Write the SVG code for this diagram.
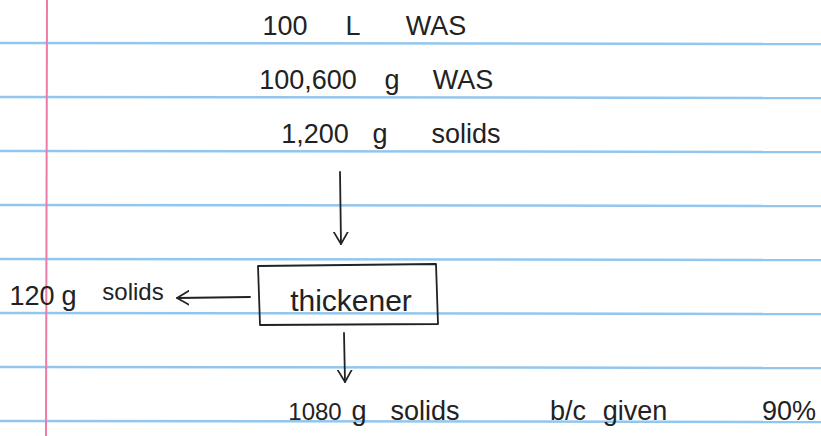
<svg xmlns="http://www.w3.org/2000/svg" width="821" height="436" viewBox="0 0 821 436">
<style>
.rule{stroke:#93c6ee;stroke-width:2.5;fill:none}
.margin{stroke:#ee7aa8;stroke-width:2;fill:none}
.hw{font-family:"Liberation Sans",Arial,sans-serif;font-size:27px;fill:#222;text-anchor:middle}
.sm{font-size:24px}
.ink{stroke:#222;stroke-width:1.8;fill:none;stroke-linecap:round;stroke-linejoin:round}
</style>
<defs>
<marker id="ah" viewBox="0 -8 13 16" refX="12" refY="0" markerWidth="13" markerHeight="16" markerUnits="userSpaceOnUse" orient="auto">
<path d="M0,-7 L12,0 L0,7" fill="none" stroke="#222" stroke-width="1.7" stroke-linecap="round" stroke-linejoin="round"/>
</marker>
</defs>
<rect width="821" height="436" fill="#fff"/>
<g id="paper">
<path class="rule" d="M0,43 L821,44"/>
<path class="rule" d="M0,97 L821,98"/>
<path class="rule" d="M0,151 L821,152"/>
<path class="rule" d="M0,205 L821,206"/>
<path class="rule" d="M0,259 L821,260"/>
<path class="rule" d="M0,313 L821,314"/>
<path class="rule" d="M0,367 L821,368"/>
<path class="rule" d="M0,421 L821,422"/>
<path class="margin" d="M47,0 L46,436"/>
</g>
<g id="connectors">
<path class="ink" d="M340,172 L341,244" marker-end="url(#ah)"/>
<path class="ink" d="M250,297 L177,298" marker-end="url(#ah)" stroke-width="2.2"/>
<path class="ink" d="M344,333 L345,382" marker-end="url(#ah)"/>
</g>
<g id="input">
<text class="hw" x="285" y="35">100</text>
<text class="hw" x="353" y="35">L</text>
<text class="hw" x="436" y="35">WAS</text>
<text class="hw" x="308" y="89">100,600</text>
<text class="hw" x="392" y="89">g</text>
<text class="hw" x="463" y="89">WAS</text>
<text class="hw" x="315" y="143">1,200</text>
<text class="hw" x="380" y="143">g</text>
<text class="hw" x="466" y="143">solids</text>
</g>
<g id="thickener">
<path class="ink" d="M258,266 L436,264 L438,324 L260,325 Z" stroke-width="2"/>
<text class="hw" x="351" y="311" style="font-size:30px">thickener</text>
</g>
<g id="overflow">
<text class="hw" x="32" y="305">120</text>
<text class="hw" x="69" y="305">g</text>
<text class="hw sm" x="133" y="300">solids</text>
</g>
<g id="underflow">
<text class="hw sm" x="315" y="420">1080</text>
<text class="hw" x="359" y="420">g</text>
<text class="hw" x="425" y="420">solids</text>
<text class="hw" x="568" y="420">b/c</text>
<text class="hw" x="635" y="420">given</text>
<text class="hw" x="789" y="420">90%</text>
</g>
</svg>
